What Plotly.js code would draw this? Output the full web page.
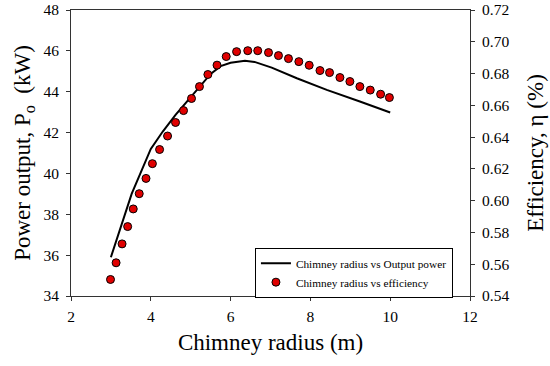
<!DOCTYPE html>
<html>
<head>
<meta charset="utf-8">
<script src="https://cdn.plot.ly/plotly-3.0.1.min.js"></script>
<style>html,body{margin:0;padding:0;background:#fff;}#chart{width:550px;height:366px;}</style>
</head>
<body>
<div id="chart"></div>
<script>
// Chimney radius vs output power (line)
const powerRadius = [3.0, 3.52, 4.0, 4.3, 4.62, 5.06, 5.5, 5.75, 6.0, 6.36, 6.6, 7.03, 7.66, 8.41, 8.91, 9.24, 10.0];
const powerOutput = [35.9, 39.0, 41.2, 42.05, 42.87, 43.85, 44.87, 45.25, 45.42, 45.52, 45.46, 45.18, 44.66, 44.09, 43.76, 43.52, 42.98];

// Chimney radius vs efficiency (markers)
const effRadius = [2.99, 3.13, 3.28, 3.42, 3.56, 3.71, 3.88, 4.04, 4.22, 4.42, 4.62, 4.82, 5.02,
  5.22, 5.43, 5.66, 5.89, 6.15, 6.43, 6.68, 6.95, 7.20, 7.45, 7.71, 7.97, 8.24, 8.48, 8.74, 8.99, 9.24, 9.50, 9.76, 9.98];
const efficiency = [0.5504, 0.5609, 0.5728, 0.5837, 0.5948, 0.6044, 0.6140, 0.6233, 0.6322, 0.6407, 0.6492, 0.6567, 0.6643,
  0.6718, 0.6794, 0.6853, 0.6907, 0.6938, 0.6944, 0.6944, 0.6932, 0.6913, 0.6894, 0.6875, 0.6852, 0.6819, 0.6806, 0.6775, 0.6750, 0.6718, 0.6696, 0.6670, 0.6649];

const seriesNames = ['Chimney radius vs Output power', 'Chimney radius vs efficiency'];

const font = 'Liberation Serif, Times New Roman, serif';

const traces = [
  {x: powerRadius, y: powerOutput, type: 'scatter', mode: 'lines', name: seriesNames[0],
   line: {color: '#000', width: 2}, yaxis: 'y'},
  {x: effRadius, y: efficiency, type: 'scatter', mode: 'markers', name: seriesNames[1],
   marker: {color: '#e00000', size: 8, line: {color: '#000', width: 1}}, yaxis: 'y2'}
];

const axisCommon = {
  showgrid: false, zeroline: false, showline: true, linecolor: '#333', linewidth: 1,
  ticks: 'outside', ticklen: 4, tickcolor: '#333', tickwidth: 1,
  tickfont: {family: font, size: 15.5, color: '#000'}
};

const layout = {
  width: 550, height: 366,
  margin: {l: 71, r: 80, t: 10, b: 70},
  paper_bgcolor: '#fff', plot_bgcolor: '#fff',
  font: {family: font, color: '#000'},
  showlegend: true,
  legend: {x: 0.461, y: 0.169, xanchor: 'left', yanchor: 'top',
    bordercolor: '#000', borderwidth: 1, bgcolor: '#fff',
    font: {family: font, size: 11.3, color: '#000'}, tracegroupgap: 0},
  xaxis: Object.assign({}, axisCommon, {range: [2, 12], dtick: 2, mirror: true, ticklabelstandoff: 2,
    title: {text: 'Chimney radius (m)', font: {family: font, size: 23, color: '#000'}, standoff: 10}}),
  yaxis: Object.assign({}, axisCommon, {range: [34, 48], dtick: 2, ticklabelstandoff: 4,
    title: {text: 'Power output, P<sub>o</sub>  (kW)', font: {family: font, size: 23, color: '#000'}, standoff: 6}}),
  yaxis2: Object.assign({}, axisCommon, {range: [0.54, 0.72], dtick: 0.02, tickformat: '.2f', ticklabelstandoff: 4,
    overlaying: 'y', side: 'right',
    title: {text: 'Efficiency, η (%)', font: {family: font, size: 23, color: '#000'}, standoff: 18}})
};

Plotly.newPlot('chart', traces, layout, {displayModeBar: false, staticPlot: true});
</script>
</body>
</html>
